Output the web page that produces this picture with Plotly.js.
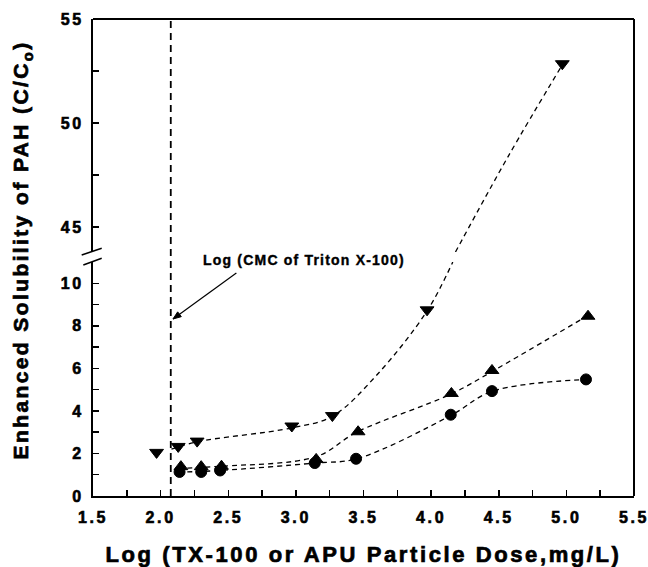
<!DOCTYPE html>
<html>
<head>
<meta charset="utf-8">
<script src="https://cdn.plot.ly/plotly-3.0.1.min.js"></script>
<style>
  html, body { margin: 0; padding: 0; background: #fff; }
  #chart { width: 648px; height: 567px; }
  .xtick text, .ytick text, .y2tick text { letter-spacing: 2.6px; stroke: #000; stroke-width: 0.6px; }
  .xtitle { letter-spacing: 2.6px; stroke: #000; stroke-width: 0.7px; }
  .annotation[data-index="0"] text { letter-spacing: 2.4px; stroke: #000; stroke-width: 0.7px; }
  .annotation[data-index="1"] text { letter-spacing: 1.2px; stroke: #000; stroke-width: 0.4px; }
</style>
</head>
<body>
<div id="chart"></div>
<script>
// ---- data ----
// Down triangles
var xDown = [1.97, 2.13, 2.27, 2.97, 3.27, 3.97, 4.97];
var yDown = [2.05, 2.33, 2.58, 3.29, 3.78, 8.75, 52.85];
// Up triangles
var xUp = [2.15, 2.30, 2.45, 3.15, 3.46, 4.15, 4.45, 5.16];
var yUp = [1.38, 1.38, 1.40, 1.72, 3.02, 4.82, 5.90, 8.45];
// Circles
var xCirc = [2.14, 2.30, 2.44, 3.14, 3.445, 4.145, 4.45, 5.145];
var yCirc = [1.13, 1.13, 1.20, 1.55, 1.75, 3.82, 4.93, 5.48];

// dashed trend curves
var fitDownLoX = [2.08, 2.27, 2.97, 3.27, 3.60, 3.97, 4.16];
var fitDownLoY = [2.20, 2.55, 3.20, 3.75, 5.70, 8.70, 11.0];
var fitDownHiX = [4.18, 4.57, 4.97];
var fitDownHiY = [43.8, 48.4, 52.8];
var fitUpX = [2.13, 2.45, 3.15, 3.45, 4.15, 4.45, 5.15];
var fitUpY = [1.30, 1.40, 1.85, 3.00, 4.80, 5.85, 8.45];
var fitCircX = [2.13, 2.44, 3.14, 3.45, 4.15, 4.45, 5.15];
var fitCircY = [1.12, 1.20, 1.55, 1.75, 3.80, 4.92, 5.48];

var cmcX = 2.075;            // Log(CMC of Triton X-100)
var breakLow = 11;           // top of lower y segment
var breakHigh = 43.8;        // bottom of upper y segment

// arrow pointing at the CMC line (tail near label, tip on the line)
var arrowTail = [2.56, 10.48];
var arrowTip = [2.0915, 8.32];
var arrowHeadA = [2.153, 8.43];
var arrowHeadB = [2.126, 8.655];

var xTickVals = [1.5, 2.0, 2.5, 3.0, 3.5, 4.0, 4.5, 5.0, 5.5];
var yLowTicks = [0, 2, 4, 6, 8, 10];
var yHighTicks = [45, 50, 55];

// ---- helpers ----
function split(xs, ys, low) {
  var ox = [], oy = [];
  for (var i = 0; i < xs.length; i++) {
    if ((ys[i] <= breakLow) === low) { ox.push(xs[i]); oy.push(ys[i]); }
  }
  return {x: ox, y: oy};
}
var traces = [];
function curve(x, y, ya) {
  traces.push({x: x, y: y, yaxis: ya, type: 'scatter', mode: 'lines',
               line: {color: '#000', width: 1.3, dash: '5px,4px', shape: 'spline'},
               hoverinfo: 'skip', showlegend: false});
}
curve(fitDownLoX, fitDownLoY, 'y');
curve(fitDownHiX, fitDownHiY, 'y2');
curve(fitUpX, fitUpY, 'y');
curve(fitCircX, fitCircY, 'y');

function markers(xs, ys, sym, size) {
  var lo = split(xs, ys, true), hi = split(xs, ys, false);
  [[lo, 'y'], [hi, 'y2']].forEach(function (p) {
    if (p[0].x.length) traces.push({x: p[0].x, y: p[0].y, yaxis: p[1], type: 'scatter',
      mode: 'markers', marker: {symbol: sym, size: size, color: '#000', line: {color: '#000', width: 1}},
      showlegend: false, cliponaxis: false});
  });
}
markers(xCirc, yCirc, 'circle', 11);
markers(xUp, yUp, 'triangle-up', 12);
markers(xDown, yDown, 'triangle-down', 12);

function tf() { return {family: 'Liberation Sans, Arial, sans-serif', size: 16, color: '#000', weight: 700}; }
function minorTicks(d, t0) {
  return {ticks: 'inside', ticklen: 6, tickwidth: 1.5, tickcolor: '#000', dtick: d, tick0: t0, showgrid: false};
}

var layout = {
  width: 648, height: 567,
  margin: {l: 93, r: 14, t: 19, b: 71},
  paper_bgcolor: '#fff', plot_bgcolor: '#fff',
  showlegend: false,
  xaxis: {
    range: [1.5, 5.5], tickmode: 'array', tickvals: xTickVals, tickformat: '.1f', anchor: 'y',
    showline: true, linecolor: '#000', linewidth: 2, showgrid: false, zeroline: false,
    ticks: 'inside', ticklen: 6, tickwidth: 1.5, tickcolor: '#000', tickfont: tf(),
    ticklabeloverflow: 'allow', ticklabelstandoff: 6,
    minor: minorTicks(0.25, 1.5),
    title: {text: 'Log (TX-100 or APU Particle Dose,mg/L)', standoff: 28,
            font: {family: 'Liberation Sans, Arial, sans-serif', size: 22, color: '#000', weight: 700}}
  },
  yaxis: {
    range: [0, breakLow], domain: [0, 0.4906], tickmode: 'array', tickvals: yLowTicks, anchor: 'x',
    showline: true, linecolor: '#000', linewidth: 2, showgrid: false, zeroline: false,
    ticks: 'inside', ticklen: 6, tickwidth: 1.5, tickcolor: '#000', tickfont: tf(),
    ticklabeloverflow: 'allow', ticklabelstandoff: 4,
    minor: minorTicks(1, 0)
  },
  yaxis2: {
    range: [breakHigh, 55], domain: [0.5115, 1], tickmode: 'array', tickvals: yHighTicks, anchor: 'x',
    showline: true, linecolor: '#000', linewidth: 2, showgrid: false, zeroline: false,
    ticks: 'inside', ticklen: 6, tickwidth: 1.5, tickcolor: '#000', tickfont: tf(),
    ticklabeloverflow: 'allow', ticklabelstandoff: 4,
    minor: minorTicks(2.5, 45)
  },
  shapes: [
    // frame top and right
    {type: 'line', xref: 'paper', yref: 'paper', x0: 0, x1: 1, y0: 1, y1: 1, line: {color: '#000', width: 2}},
    {type: 'line', xref: 'paper', yref: 'paper', x0: 1, x1: 1, y0: 0, y1: 1, line: {color: '#000', width: 2}},
    // CMC vertical dashed line
    {type: 'line', xref: 'x', yref: 'paper', x0: cmcX, x1: cmcX, y0: 0, y1: 1,
     line: {color: '#000', width: 1.8, dash: '7px,5px'}},
    // axis break marks
    {type: 'line', xref: 'paper', yref: 'paper', x0: -0.0209, y0: 0.5052, x1: 0.0161, y1: 0.5193, line: {color: '#000', width: 1.5}},
    {type: 'line', xref: 'paper', yref: 'paper', x0: -0.0179, y0: 0.4843, x1: 0.0161, y1: 0.4983, line: {color: '#000', width: 1.5}},
    // arrow to CMC line
    {type: 'line', xref: 'x', yref: 'y', x0: arrowTail[0], y0: arrowTail[1], x1: arrowTip[0], y1: arrowTip[1],
     line: {color: '#000', width: 1.2}},
    {type: 'path', xref: 'x', yref: 'y',
     path: 'M' + arrowTip.join(',') + ' L' + arrowHeadA.join(',') + ' L' + arrowHeadB.join(',') + ' Z',
     fillcolor: '#000', line: {color: '#000', width: 1}}
  ],
  annotations: [
    {text: 'Enhanced Solubility of PAH (C/C<sub>o</sub>)', textangle: -90,
     xref: 'paper', yref: 'paper', x: -0.1312, y: 0.516, xanchor: 'center', yanchor: 'middle',
     showarrow: false, font: {family: 'Liberation Sans, Arial, sans-serif', size: 21, color: '#000', weight: 700}},
    {text: 'Log (CMC of Triton X-100)', xref: 'paper', yref: 'paper', x: 0.39, y: 0.4948,
     xanchor: 'center', yanchor: 'middle', showarrow: false,
     font: {family: 'Liberation Sans, Arial, sans-serif', size: 14, color: '#000', weight: 700}}
  ]
};

Plotly.newPlot('chart', traces, layout, {staticPlot: true, displayModeBar: false});
</script>
</body>
</html>
